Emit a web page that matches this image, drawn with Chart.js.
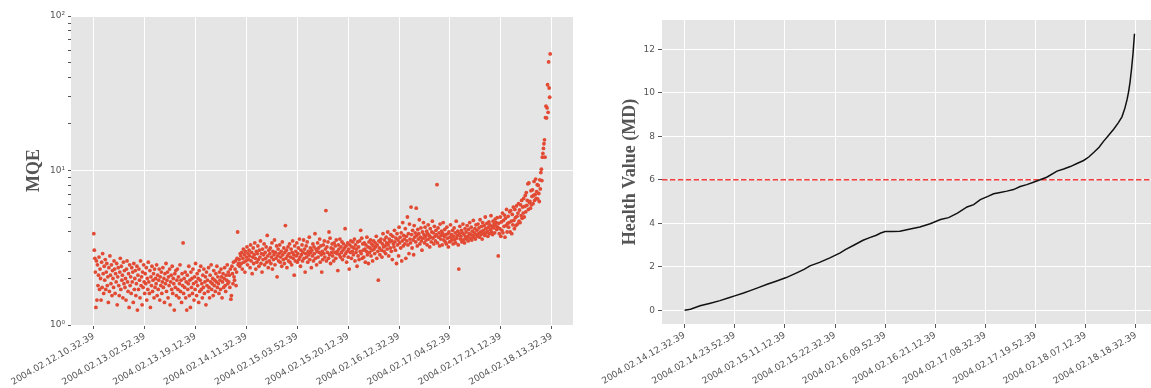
<!DOCTYPE html>
<html><head><meta charset="utf-8">
<script src="https://cdn.jsdelivr.net/npm/chart.js@4.4.1/dist/chart.umd.min.js"></script>
<style>
html,body{margin:0;padding:0;background:#fff;width:1151px;height:388px;overflow:hidden;}
.box{position:absolute;top:0;}
</style></head><body>
<div class="box" style="left:0;width:590px;height:388px"><canvas id="c1" width="590" height="388"></canvas></div>
<div class="box" style="left:580px;width:571px;height:388px"><canvas id="c2" width="571" height="388"></canvas></div>
<script>
// ---------- DATA ----------
const leftTickLabels = ['2004.02.12.10.32.39','2004.02.13.02.52.39','2004.02.13.19.12.39','2004.02.14.11.32.39','2004.02.15.03.52.39','2004.02.15.20.12.39','2004.02.16.12.32.39','2004.02.17.04.52.39','2004.02.17.21.12.39','2004.02.18.13.32.39'];
const leftTickIdx = [0,98,196,294,392,490,588,686,784,882];
const mqe = [
3.9,3.05,2.7,2.2,1.3,2.6,1.45,2.45,1.8,2.1,2.75,1.7,2.3,2.0,1.45,2.55,1.75,2.9,2.15,1.6,
2.4,1.95,2.65,1.7,2.2,2.5,1.8,2.05,1.4,2.35,1.65,2.8,2.1,1.85,2.45,1.55,2.25,2.0,1.75,2.6,
2.3,1.6,2.15,1.9,2.5,1.35,2.05,2.35,1.8,1.55,2.2,2.7,1.7,2.4,1.95,2.1,1.5,2.55,1.85,2.25,
1.75,2.0,1.45,2.3,2.6,1.9,1.65,2.15,1.3,2.45,1.8,2.05,1.6,2.35,1.9,2.2,1.4,2.5,1.7,2.0,
2.25,1.55,1.85,2.4,1.25,2.1,1.7,2.3,1.95,1.5,2.6,1.8,2.05,1.35,2.2,1.75,2.45,1.9,1.6,2.15,
1.85,2.35,1.45,2.0,1.7,2.55,1.9,1.6,2.25,1.3,2.05,1.8,2.4,1.65,1.95,2.15,1.5,2.3,1.75,2.0,
1.85,2.45,1.55,2.1,1.7,1.95,2.3,1.45,2.05,1.8,2.2,1.6,1.9,2.35,1.75,2.0,1.4,2.15,1.85,2.5,
1.65,1.95,2.2,1.5,2.05,1.8,2.3,1.35,1.9,2.1,1.7,2.4,1.6,2.0,1.85,1.25,2.15,1.75,2.25,1.55,
1.95,2.3,1.7,2.05,1.5,1.85,2.45,1.65,1.95,1.4,2.15,1.8,3.4,1.6,2.0,1.75,2.2,1.5,1.9,1.25,
2.1,1.7,1.85,2.4,1.55,1.95,1.3,2.2,1.75,2.0,1.6,2.3,1.85,1.45,2.05,1.7,2.5,1.9,1.55,2.15,
1.8,2.0,1.4,2.25,1.65,1.95,2.4,1.7,1.85,1.5,2.1,1.75,2.3,1.6,1.9,2.05,1.35,2.2,1.8,1.95,
1.65,2.35,1.75,1.5,2.1,1.9,2.45,1.7,1.85,2.0,1.55,2.25,1.8,1.95,1.65,2.15,1.9,2.4,1.75,2.05,
1.85,1.6,2.2,1.95,1.7,2.3,2.05,1.5,1.9,2.15,1.75,2.0,2.35,1.8,1.65,2.1,1.95,2.45,1.85,2.2,
1.9,2.1,1.75,2.3,1.47,1.55,2.4,2.15,1.85,2.55,2.05,1.95,2.3,2.6,1.8,2.2,2.7,4.0,2.45,2.5,
2.65,2.4,2.9,2.8,2.5,2.95,2.3,2.7,3.1,2.55,2.85,2.2,3.0,2.6,2.75,3.2,2.45,2.9,2.65,3.05,
2.8,2.35,3.3,2.6,2.95,2.15,2.75,3.15,2.5,2.85,3.4,2.7,2.3,3.0,2.55,2.9,3.25,2.65,2.4,3.05,
2.75,3.5,2.5,2.9,2.2,3.1,2.65,2.85,3.35,2.45,2.95,2.7,3.2,2.55,3.8,2.8,2.35,3.05,2.6,2.9,
3.15,2.5,2.75,3.4,2.3,3.0,2.65,2.85,3.55,2.45,2.95,2.7,3.25,2.05,2.8,3.1,2.6,2.9,3.3,2.55,
2.75,3.0,2.4,3.45,2.85,2.65,3.15,2.5,2.95,4.4,2.7,3.05,2.35,2.8,3.2,2.6,2.9,3.35,2.55,2.75,
3.1,2.45,2.95,3.5,2.7,2.85,2.1,3.25,2.6,3.0,2.8,3.4,2.55,2.9,3.15,2.65,3.6,2.75,2.4,3.05,
2.85,3.3,2.6,2.95,3.55,2.7,3.1,2.2,2.9,3.25,2.75,3.45,2.55,3.0,2.85,3.7,2.65,3.15,2.95,2.35,
3.05,2.8,3.35,2.6,3.2,2.9,3.9,2.7,3.1,2.45,3.0,3.4,2.75,3.15,2.95,3.6,2.55,3.25,2.85,2.2,
3.0,2.65,3.3,2.9,3.5,2.75,3.1,5.5,2.6,3.2,2.95,3.45,2.7,4.0,2.85,3.65,2.5,3.15,2.95,3.35,
2.8,3.1,2.6,3.4,2.95,3.25,2.7,3.55,2.9,3.0,2.25,3.3,3.1,2.85,3.6,2.75,3.2,2.95,3.45,2.65,
3.05,3.35,2.8,3.15,4.2,2.9,3.25,2.55,3.0,3.4,2.75,3.1,2.3,3.3,2.95,3.5,2.7,3.2,3.0,3.45,
2.85,3.15,3.6,2.6,3.3,2.95,3.1,2.4,3.45,2.8,3.2,2.65,3.5,3.0,4.1,2.9,3.65,2.7,3.35,3.05,
2.75,3.4,3.1,2.55,3.3,3.0,3.7,2.85,3.2,2.5,3.45,2.95,3.15,3.55,2.8,3.35,3.05,2.6,3.25,3.5,
3.1,2.9,3.4,3.2,3.75,2.7,3.3,3.0,1.95,3.5,3.15,2.85,3.45,3.6,3.05,2.75,3.35,3.9,3.2,3.0,
3.55,3.25,2.9,3.7,3.4,3.1,4.0,3.3,2.8,3.6,3.45,3.15,3.85,3.0,3.5,2.65,3.75,3.35,3.2,4.1,
3.45,3.05,3.65,2.5,3.9,3.3,3.55,2.8,4.3,3.4,3.7,3.15,3.95,2.6,3.5,4.6,3.25,3.8,3.6,3.35,
4.2,2.7,3.75,3.5,5.0,3.3,3.9,2.9,4.5,3.6,3.4,5.8,3.85,3.15,4.1,3.55,2.85,4.4,3.7,3.95,
3.45,5.7,3.8,3.25,4.15,3.6,3.9,4.8,3.35,3.7,4.25,3.5,3.05,4.0,3.65,4.6,3.85,3.4,4.3,3.75,
3.55,4.05,3.3,3.9,4.45,3.6,3.8,3.2,4.2,3.7,3.45,4.0,4.7,3.65,3.95,3.35,4.35,3.75,3.5,4.1,
3.85,8.1,3.4,4.25,3.7,3.95,3.25,4.5,3.6,3.8,4.05,3.3,3.9,4.6,3.55,3.75,4.15,3.45,3.85,3.35,
4.3,3.65,3.9,3.2,4.0,3.45,3.7,4.45,3.5,3.85,3.6,4.1,3.35,3.75,4.25,3.55,3.95,3.4,4.7,3.65,
3.8,4.05,3.3,2.3,3.9,4.35,3.6,3.75,4.1,3.45,3.95,4.5,3.55,3.85,3.4,4.2,3.7,4.0,3.6,4.4,
3.75,3.5,4.15,3.9,4.6,3.65,3.85,4.3,3.55,4.05,3.8,4.75,3.7,3.95,4.2,3.6,4.45,3.85,4.1,3.75,
4.5,3.9,4.25,3.7,4.8,4.0,3.85,4.35,3.6,4.6,4.1,3.95,4.4,3.8,5.0,4.2,3.95,4.55,4.05,3.75,
4.3,4.65,3.9,4.45,4.15,5.1,4.0,4.35,3.85,4.7,4.25,4.5,3.95,4.85,4.4,4.6,4.15,4.95,4.3,2.8,
4.55,3.9,4.2,5.0,3.75,4.65,4.1,5.3,3.95,4.75,4.35,5.15,3.7,4.9,4.4,5.6,4.0,4.55,5.05,4.3,
4.6,5.4,4.0,5.5,4.7,3.9,5.2,4.45,5.8,4.75,4.2,5.6,4.95,4.4,5.9,5.05,4.5,5.3,6.1,4.7,
5.55,4.6,6.0,5.1,6.4,4.9,5.8,5.3,6.6,5.0,5.85,6.9,5.4,7.2,5.95,6.4,8.2,5.6,8.3,6.2,
6.3,5.7,7.4,6.0,6.8,7.5,6.1,6.9,8.5,6.4,7.0,8.8,6.6,7.3,8.1,6.55,8.0,7.1,6.3,8.7,
7.6,9.7,10.2,8.6,12.2,12.9,13.9,14.9,15.8,12.2,22.0,26.1,21.9,25.4,35.9,23.8,50.4,34.2,29.8,56.8
];
const logTickValues = [1,2,3,4,5,6,7,8,9,10,20,30,40,50,60,70,80,90,100];
const logMajor = {1:'10\u2070',10:'10\u00b9',100:'10\u00b2'};

const rightTickLabels = ['2004.02.14.12.32.39','2004.02.14.23.52.39','2004.02.15.11.12.39','2004.02.15.22.32.39','2004.02.16.09.52.39','2004.02.16.21.12.39','2004.02.17.08.32.39','2004.02.17.19.52.39','2004.02.18.07.12.39','2004.02.18.18.32.39'];
const rightTickIdx = [0,68,136,204,272,340,408,476,544,612];
const hvIdx = [0,8,21,35,48,60,69,80,89,100,112,124,137,152,162,170,183,197,211,218,230,242,251,260,266,272,282,292,306,319,333,347,358,370,383,392,401,412,419,428,437,446,455,464,473,482,491,505,514,523,532,541,548,555,562,568,575,582,588,593,597,600,602,604,606,608,610];
const hvVal = [0.0,0.04,0.2,0.32,0.44,0.57,0.67,0.79,0.9,1.04,1.19,1.33,1.49,1.72,1.88,2.04,2.2,2.41,2.64,2.79,3.0,3.22,3.34,3.45,3.55,3.62,3.62,3.63,3.74,3.83,3.98,4.17,4.26,4.47,4.75,4.86,5.09,5.25,5.36,5.42,5.48,5.55,5.69,5.78,5.89,6.0,6.12,6.4,6.5,6.61,6.75,6.89,7.05,7.27,7.5,7.77,8.05,8.34,8.62,8.9,9.3,9.7,10.05,10.5,11.1,11.8,12.72];
const rightYTicks = [0,2,4,6,8,10,12];
const threshold = 6;

// ---------- STYLE ----------
const TICK_FONT = {family:'DejaVu Sans', size:9};
const TITLE_FONT = {family:'Liberation Serif', size:18, weight:'bold'};
const bgPlugin = {id:'bg', beforeDraw(chart){const {ctx, chartArea:a}=chart; ctx.save(); ctx.fillStyle='#E5E5E5'; ctx.fillRect(a.left,a.top,a.right-a.left,a.bottom-a.top); ctx.restore();}};
const noPad = s => { s.paddingLeft=0; s.paddingRight=0; s.paddingTop=0; s.paddingBottom=0; };

// ---------- LEFT CHART ----------
const n1 = mqe.length - 1;
new Chart(document.getElementById('c1'), {
  type:'scatter',
  data:{datasets:[{data: mqe.map((v,i)=>({x:i,y:v})), backgroundColor:'#E24A33', borderWidth:0, pointRadius:1.9, pointHoverRadius:1.9}]},
  options:{
    responsive:false, animation:false, events:[],
    layout:{padding:{top:16,right:17,left:0,bottom:0}},
    plugins:{legend:{display:false}, tooltip:{enabled:false}},
    scales:{
      x:{type:'linear', min:-0.05*n1, max:n1*1.05,
        afterBuildTicks:s=>{s.ticks = leftTickIdx.map(v=>({value:v}));},
        afterFit:s=>{s.height=63; noPad(s);},
        ticks:{autoSkip:false, minRotation:30, maxRotation:30, font:TICK_FONT, color:'#555', padding:2,
          callback:(v,i)=>leftTickLabels[i]},
        grid:{color:'#fff', lineWidth:1, tickColor:'#555', tickLength:4},
        border:{display:false}},
      y:{type:'logarithmic', min:1, max:100,
        afterBuildTicks:s=>{s.ticks = logTickValues.map(v=>({value:v, major: v in logMajor}));},
        afterFit:s=>{s.width=71; noPad(s);},
        ticks:{autoSkip:false, font:TICK_FONT, color:'#555', padding:3,
          callback:v=> logMajor[v] || ''},
        grid:{color:c=> (c.tick && (c.tick.value in logMajor)) ? '#fff' : 'rgba(0,0,0,0)', lineWidth:1, tickColor:'#555', tickLength:3},
        border:{display:false},
        title:{display:true, text:'MQE', font:TITLE_FONT, color:'#555', padding:{top:24,bottom:0}}}
    }
  },
  plugins:[bgPlugin]
});

// ---------- RIGHT CHART ----------
const n2 = 612;
const rMin = -0.05*n2;
const rMax = rMin + 663;
const yMaxData = Math.max(...hvVal);
new Chart(document.getElementById('c2'), {
  type:'line',
  data:{datasets:[
    {data: hvIdx.map((x,i)=>({x:x,y:hvVal[i]})), borderColor:'#111', borderWidth:1.5, pointRadius:0, tension:0, fill:false},
    {data:[{x:rMin,y:threshold},{x:rMax,y:threshold}], borderColor:'#f43c3c', borderWidth:1.5, borderDash:[5.5,2.4], pointRadius:0, fill:false}
  ]},
  options:{
    responsive:false, animation:false, events:[],
    layout:{padding:{top:20,right:0,left:0,bottom:0}},
    plugins:{legend:{display:false}, tooltip:{enabled:false}},
    scales:{
      x:{type:'linear', min:rMin, max:rMax,
        afterBuildTicks:s=>{s.ticks = rightTickIdx.map(v=>({value:v}));},
        afterFit:s=>{s.height=64; noPad(s);},
        ticks:{autoSkip:false, minRotation:30, maxRotation:30, font:TICK_FONT, color:'#555', padding:2,
          callback:(v,i)=>rightTickLabels[i]},
        grid:{color:'#fff', lineWidth:1, tickColor:'#555', tickLength:4},
        border:{display:false}},
      y:{type:'linear', min:-0.05*yMaxData, max:yMaxData*1.05,
        afterBuildTicks:s=>{s.ticks = rightYTicks.map(v=>({value:v}));},
        afterFit:s=>{s.width=82; noPad(s);},
        ticks:{autoSkip:false, font:TICK_FONT, color:'#555', padding:3},
        grid:{color:'#fff', lineWidth:1, tickColor:'#555', tickLength:4},
        border:{display:false},
        title:{display:true, text:'Health Value (MD)', font:TITLE_FONT, color:'#555', padding:{top:40,bottom:0}}}
    }
  },
  plugins:[bgPlugin]
});
</script>
</body></html>
